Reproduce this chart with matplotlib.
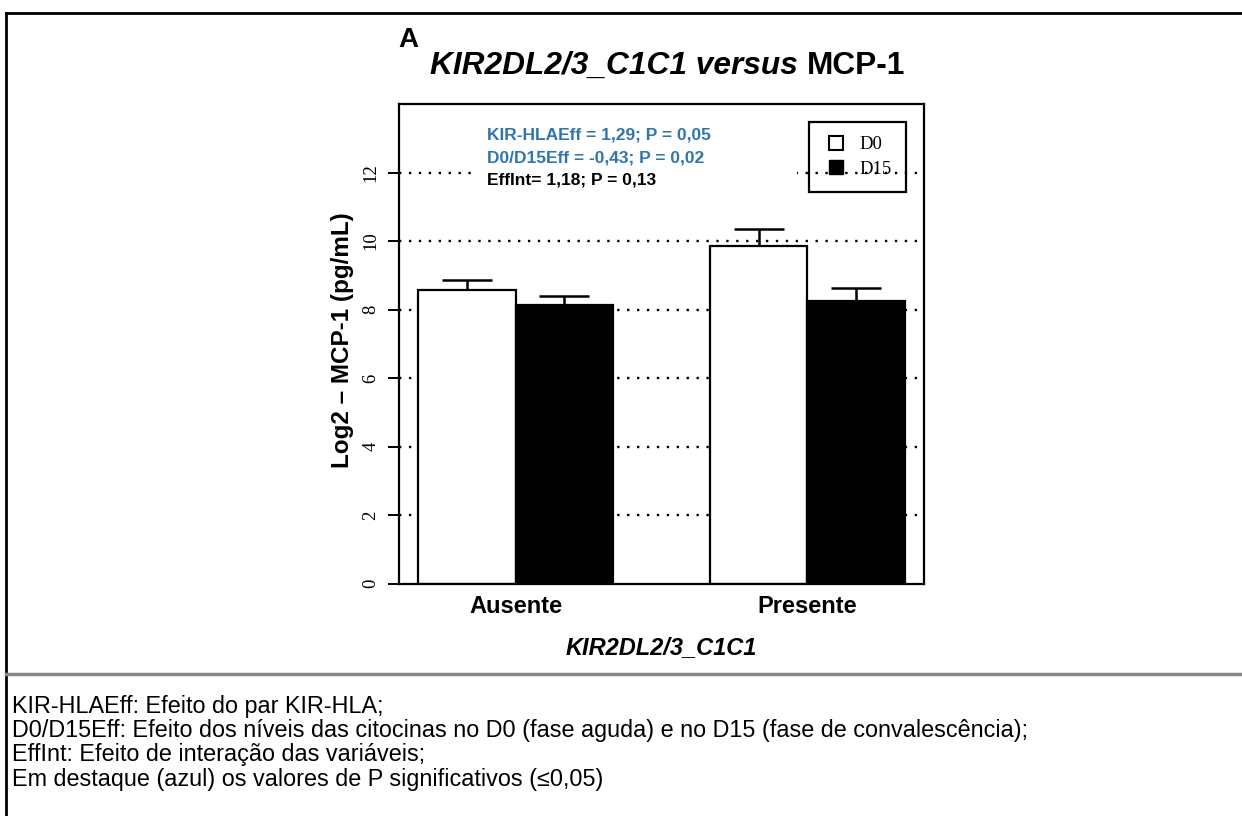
import matplotlib
matplotlib.use('Agg')
import matplotlib.pyplot as plt
from matplotlib.lines import Line2D
from matplotlib.patches import Rectangle
import numpy as np

plt.rcParams['font.family'] = ['Liberation Sans', 'DejaVu Sans']

# log2 MCP-1 means and upper error (SE) per group
groups = ['Ausente', 'Presente']
d0_mean = [8.56, 9.84]
d15_mean = [8.14, 8.25]
d0_err = [0.29, 0.51]
d15_err = [0.26, 0.39]
series_names = ['D0', 'D15']

stats_lines = ['KIR-HLAEff = 1,29; P = 0,05',
               'D0/D15Eff = -0,43; P = 0,02',
               'EffInt= 1,18; P = 0,13']
stats_colors = ['#2e75b6', '#2e75b6', 'black']

notes = ['KIR-HLAEff: Efeito do par KIR-HLA;',
         'D0/D15Eff: Efeito dos níveis das citocinas no D0 (fase aguda) e no D15 (fase de convalescência);',
         'EffInt: Efeito de interação das variáveis;',
         'Em destaque (azul) os valores de P significativos (≤0,05)']

W, H = 1242, 816
fig = plt.figure(figsize=(W / 100, H / 100), dpi=100)

def fx(px):
    return px / W

def fy(py):
    return 1 - py / H

ax = fig.add_axes([fx(399), fy(583.5), fx(924) - fx(399), fy(104) - fy(583.5)])

# barplot layout: beside=TRUE, space=c(0,1)
x_d0 = np.array([1.5, 4.5])
x_d15 = x_d0 + 1
ax.set_xlim(0.8, 6.2)
ax.set_ylim(0, 14)

# dotted reference lines behind the bars
for yv in range(2, 13, 2):
    ax.axhline(yv, color='black', lw=1.7, linestyle=(0, (1, 3.2)), zorder=1)
# white patch under the statistics text
ax.add_patch(Rectangle((1.613, 11.2), 4.894 - 1.613, 2.5, facecolor='white',
                       edgecolor='none', zorder=1.5))

ax.bar(x_d0, d0_mean, width=1, color='white', edgecolor='black', lw=1.6, zorder=3)
ax.bar(x_d15, d15_mean, width=1, color='black', edgecolor='black', lw=1.6, zorder=3)
ax.errorbar(x_d0, d0_mean, yerr=[np.zeros(2), d0_err], fmt='none', ecolor='black',
            elinewidth=1.8, capsize=18, capthick=1.8, zorder=2.5)
ax.errorbar(x_d15, d15_mean, yerr=[np.zeros(2), d15_err], fmt='none', ecolor='black',
            elinewidth=1.8, capsize=18, capthick=1.8, zorder=2.5)

for sp in ax.spines.values():
    sp.set_linewidth(1.6)
    sp.set_zorder(4)

ax.set_yticks(range(0, 13, 2))
ax.set_yticklabels([str(v) for v in range(0, 13, 2)], rotation=90, va='center',
                   family='Liberation Serif', fontsize=13.5)
ax.tick_params(axis='y', length=8, width=1.4, pad=6)
ax.set_xticks((x_d0 + x_d15) / 2)
ax.set_xticklabels(groups, fontsize=17, fontweight='bold')
ax.tick_params(axis='x', length=0, pad=8)

for i, (s, c) in enumerate(zip(stats_lines, stats_colors)):
    ax.text(0.168, 0.935 - i * 0.047, s, transform=ax.transAxes, color=c,
            fontsize=12.5, fontweight='bold', va='center', ha='left', zorder=6)

handles = [Line2D([], [], marker='s', ls='none', markersize=9.5, markerfacecolor='white',
                  markeredgecolor='black', markeredgewidth=1.5),
           Line2D([], [], marker='s', ls='none', markersize=9.5, markerfacecolor='black',
                  markeredgecolor='black')]
leg = ax.legend(handles, series_names, loc='upper right', bbox_to_anchor=(0.966, 0.962),
                borderaxespad=0, fancybox=False, prop={'family': 'Liberation Serif', 'size': 13.5},
                handletextpad=0.55, handlelength=1.4, borderpad=0.75, labelspacing=0.4)
frame = leg.get_frame()
frame.set_facecolor('none')
frame.set_edgecolor('black')
frame.set_alpha(None)
frame.set_linewidth(1.6)
leg.set_zorder(5)

# titles and axis labels
fig.text(fx(398), fy(47), 'A', fontsize=20, fontweight='bold', va='baseline')
t1 = fig.text(0, fy(74), 'KIR2DL2/3_C1C1 versus ', fontsize=22.8, fontweight='bold',
              style='italic', va='baseline')
t2 = fig.text(0, fy(74), 'MCP-1', fontsize=22.8, fontweight='bold', va='baseline')
fig.canvas.draw()
r = fig.canvas.get_renderer()
w1 = t1.get_window_extent(r).width
w2 = t2.get_window_extent(r).width
x0 = 668 - (w1 + w2) / 2
t1.set_x(fx(x0))
t2.set_x(fx(x0 + w1))

fig.text(fx(343), fy(340), 'Log2 – MCP-1 (pg/mL)', rotation=90, fontsize=17.5,
         fontweight='bold', ha='center', va='center')
fig.text(fx(661.5), fy(648), 'KIR2DL2/3_C1C1', fontsize=17, fontweight='bold',
         style='italic', ha='center', va='center')

# frame around the figure and separator for the notes
fig.add_artist(Line2D([fx(6), 1], [fy(12.7), fy(12.7)], color='black', lw=2))
fig.add_artist(Line2D([fx(6), fx(6)], [fy(12.7), 0], color='black', lw=2))
fig.add_artist(Line2D([fx(6), 1], [fy(674), fy(674)], color='#888888', lw=2.5))

for i, s in enumerate(notes):
    fig.text(fx(12), fy(706 + i * 24.5), s, fontsize=16.8, va='center', ha='left')

fig.savefig('out.png', dpi=100)
